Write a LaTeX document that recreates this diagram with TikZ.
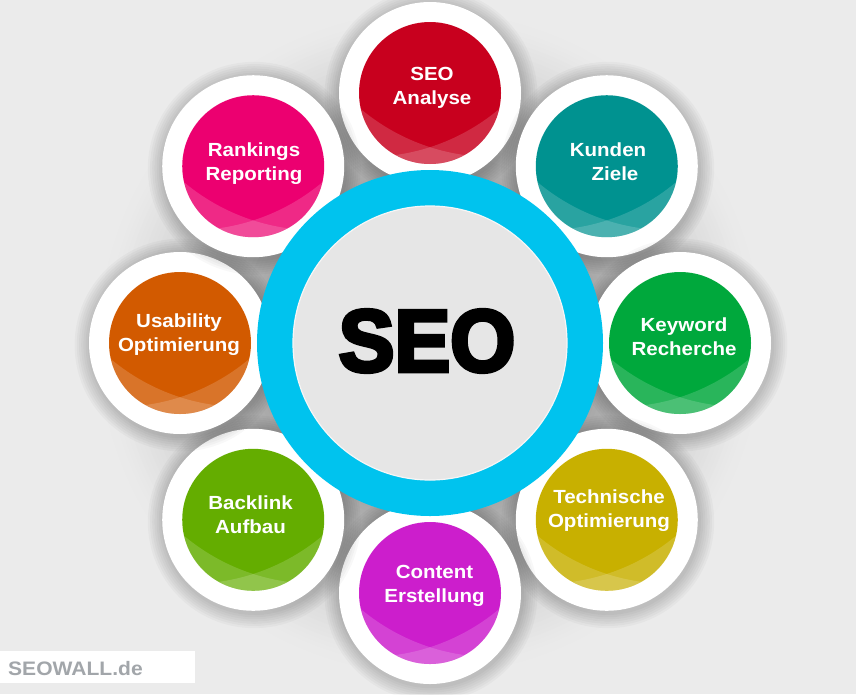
\documentclass[tikz,border=0pt]{standalone}
\usepackage{fontspec}
\usetikzlibrary{calc}
\newfontfamily\satfont{Liberation Sans Bold}[FakeStretch=1.08]
\newfontfamily\bigfont{Liberation Sans Bold}[FakeBold=4.5,FakeStretch=0.95]
\definecolor{bgc}{HTML}{EBEBEB}
\definecolor{shA}{HTML}{A8A8A8}
\definecolor{cBlue}{HTML}{00C3EE}
\definecolor{coreGray}{HTML}{E6E6E6}
\definecolor{coreRim}{HTML}{F6F6F6}
\definecolor{cRed}{HTML}{C8001E}
\definecolor{cTeal}{HTML}{009290}
\definecolor{cGreen}{HTML}{00A83C}
\definecolor{cOlive}{HTML}{C8B000}
\definecolor{cMagenta}{HTML}{CC1ECC}
\definecolor{cLime}{HTML}{64AD00}
\definecolor{cOrange}{HTML}{D25A00}
\definecolor{cPink}{HTML}{EC0070}
\definecolor{wmGray}{HTML}{A2A6AA}
\tikzset{
  whitedisc/.style={circle, fill=white, minimum size=182pt, inner sep=0pt},
  colordisc/.style={circle, fill=#1, minimum size=142pt, inner sep=0pt},
  sattext/.style={text=white, font=\satfont\fontsize{19pt}{24pt}\selectfont, align=center, inner sep=0pt},
  lightover/.style={fill=white, opacity=0.16, even odd rule}
}
\begin{document}
\begin{tikzpicture}[x=1pt, y=-1pt]
\useasboundingbox (0,0) rectangle (856,694);
\fill[bgc] (0,0) rectangle (856,694);
\coordinate (c) at (430,343);
% soft gray gradient behind the satellites
\foreach \k in {0,...,40} {
  \pgfmathsetmacro\rr{335-\k*4}
  \pgfmathsetmacro\mm{100*(\k/40)^1.3}
  \fill[shA!\mm!bgc] (c) circle[radius=\rr pt];
}
\foreach \i/\ang/\col/\tx/\ty/\txt in {
  1/90/cRed/432/88/{SEO\\Analyse},
  2/45/cTeal/608/161.5/{Kunden\\\hspace*{14pt}Ziele},
  3/0/cGreen/684/336.5/{Keyword\\Recherche},
  4/-45/cOlive/609/510.5/{Technische\\Optimierung},
  5/-90/cMagenta/434.5/586/{Content\\Erstellung},
  6/-135/cLime/250.5/514.5/{Backlink\\Aufbau},
  7/180/cOrange/179/335/{Usability\\Optimierung},
  8/135/cPink/254/163.5/{Rankings\\Reporting}} {
  \coordinate (p\i) at ({430+250*cos(\ang)},{343-250*sin(\ang)});
  \foreach \s in {1,...,7} {
    \fill[black, opacity=0.027] ($(p\i)+(1,2)$) circle[radius={91+\s*2.2}];
  }
  \node[whitedisc] (w\i) at (p\i) {};
  \node[colordisc=\col] (d\i) at (p\i) {};
  \begin{scope}
    \clip (p\i) circle[radius=71pt];
    \fill[lightover] (p\i) circle[radius=71pt] ($(p\i)+(63,-142)$) circle[radius=206pt];
    \fill[lightover] (p\i) circle[radius=71pt] ($(p\i)+(-63,-142)$) circle[radius=206pt];
  \end{scope}
  \node[sattext] (t\i) at (\tx,\ty) {\txt};
}
\node[circle, fill=cBlue, minimum size=346pt, inner sep=0pt] (ring) at (c) {};
\node[circle, fill=coreGray, draw=coreRim, line width=1.2pt, minimum size=274pt, inner sep=0pt] (core) at (c) {};
\node[font=\bigfont\fontsize{88pt}{88pt}\selectfont, text=black, inner sep=0pt] (seo) at (427,341) {SEO};
\node[fill=white, minimum width=195pt, minimum height=32pt, inner sep=0pt, anchor=north west] (wmbox) at (0,651) {};
\node[font=\satfont\fontsize{19.5pt}{24pt}\selectfont, text=wmGray, anchor=base west, inner sep=0pt] (wm) at (8,675) {SEOWALL.de};
\end{tikzpicture}
\end{document}
